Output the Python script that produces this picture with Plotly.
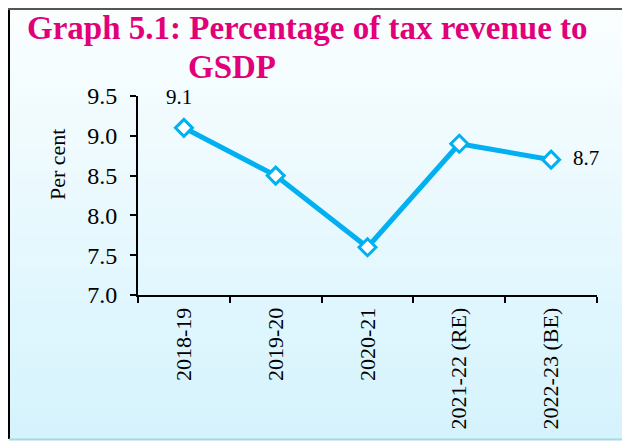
import plotly.graph_objects as go

years = ["2018-19", "2019-20", "2020-21", "2021-22 (RE)", "2022-23 (BE)"]
tax_to_gsdp = [9.1, 8.5, 7.6, 8.9, 8.7]
label_text = ["9.1", "", "", "", "8.7"]
y_ticks = [7.0, 7.5, 8.0, 8.5, 9.0, 9.5]

OFF = 8  # page body margin offset compensation
W, H = 630 - OFF, 441 - OFF
plot_l, plot_r, plot_t, plot_b = 138 - OFF, 597 - OFF, 96 - OFF, 295 - OFF
pw, ph = plot_r - plot_l, plot_b - plot_t


def px_x(px):
    return (px - OFF - plot_l) / pw


def px_y(py):
    return (plot_b - (py - OFF)) / ph


fig = go.Figure()

fig.add_trace(go.Scatter(
    x=years, y=tax_to_gsdp, mode="lines+markers",
    line=dict(color="#00B0F0", width=5),
    marker=dict(symbol="diamond", size=13, color="white",
                line=dict(color="#00B0F0", width=3)),
    showlegend=False, hoverinfo="skip", cliponaxis=False,
))

# data labels
fig.add_annotation(x=years[0], y=tax_to_gsdp[0], text=label_text[0], showarrow=False,
                   yshift=31, xshift=-5, font=dict(family="Liberation Serif", size=21, color="black"))
fig.add_annotation(x=years[-1], y=tax_to_gsdp[-1], text=label_text[-1], showarrow=False,
                   xanchor="left", xshift=20, yshift=2,
                   font=dict(family="Liberation Serif", size=21, color="black"))

# background gradient (white top to light blue bottom) inside the frame
shapes = []
n = 40
top_c = (250, 254, 255)
bot_c = (213, 243, 253)
for i in range(n):
    t = i / (n - 1)
    c = tuple(int(round(top_c[k] + (bot_c[k] - top_c[k]) * t)) for k in range(3))
    ya = 9 + (439 - 9) * i / n
    yb = 9 + (439 - 9) * (i + 1) / n + 0.6
    shapes.append(dict(type="rect", xref="paper", yref="paper", layer="below",
                       x0=px_x(9), x1=px_x(632), y0=px_y(yb), y1=px_y(ya),
                       line=dict(width=0), fillcolor="rgb(%d,%d,%d)" % c))
# frame lines
shapes.append(dict(type="line", xref="paper", yref="paper", x0=px_x(9), x1=px_x(9),
                   y0=px_y(439), y1=px_y(8), line=dict(color="black", width=2)))
shapes.append(dict(type="line", xref="paper", yref="paper", x0=px_x(8), x1=px_x(632),
                   y0=px_y(9), y1=px_y(9), line=dict(color="#555555", width=2)))
shapes.append(dict(type="line", xref="paper", yref="paper", x0=px_x(9), x1=px_x(632),
                   y0=px_y(439.5), y1=px_y(439.5), line=dict(color="#A8D8E0", width=2)))

# title as two lines
fig.add_annotation(xref="paper", yref="paper", x=px_x(307), y=px_y(28),
                   text="<b>Graph 5.1: Percentage of tax revenue to</b>",
                   showarrow=False, xanchor="center", yanchor="middle",
                   font=dict(family="Liberation Serif", size=33, color="#E2007A"))
fig.add_annotation(xref="paper", yref="paper", x=px_x(232), y=px_y(67), text="<b>GSDP</b>",
                   showarrow=False, xanchor="center", yanchor="middle",
                   font=dict(family="Liberation Serif", size=33, color="#E2007A"))

# y-axis title
fig.add_annotation(xref="paper", yref="paper", x=px_x(57), y=px_y(165), text="Per cent",
                   showarrow=False, textangle=-90, xanchor="center", yanchor="middle",
                   font=dict(family="Liberation Serif", size=22, color="black"))

fig.update_layout(
    width=W, height=H,
    margin=dict(l=plot_l, r=W - plot_r, t=plot_t, b=H - plot_b),
    paper_bgcolor="white", plot_bgcolor="rgba(0,0,0,0)",
    shapes=shapes,
    font=dict(family="Liberation Serif", color="black"),
)
fig.update_xaxes(
    type="category", range=[-0.5, 4.5], tickson="boundaries", automargin=False,
    showline=True, linecolor="black", linewidth=2,
    ticks="outside", ticklen=6, tickcolor="black", tickwidth=2,
    tickangle=-90, tickfont=dict(family="Liberation Serif", size=22, color="black"),
    ticklabelstandoff=2,
    showgrid=False, zeroline=False,
)
fig.update_yaxes(
    range=[7.0, 9.5], tickvals=y_ticks, ticktext=["%.1f" % v for v in y_ticks],
    automargin=False,
    showline=True, linecolor="black", linewidth=2,
    ticks="outside", ticklen=6, tickcolor="black", tickwidth=2,
    tickfont=dict(family="Liberation Serif", size=24, color="black"),
    ticklabelstandoff=8,
    showgrid=False, zeroline=False,
)

fig.write_html("out.html")
